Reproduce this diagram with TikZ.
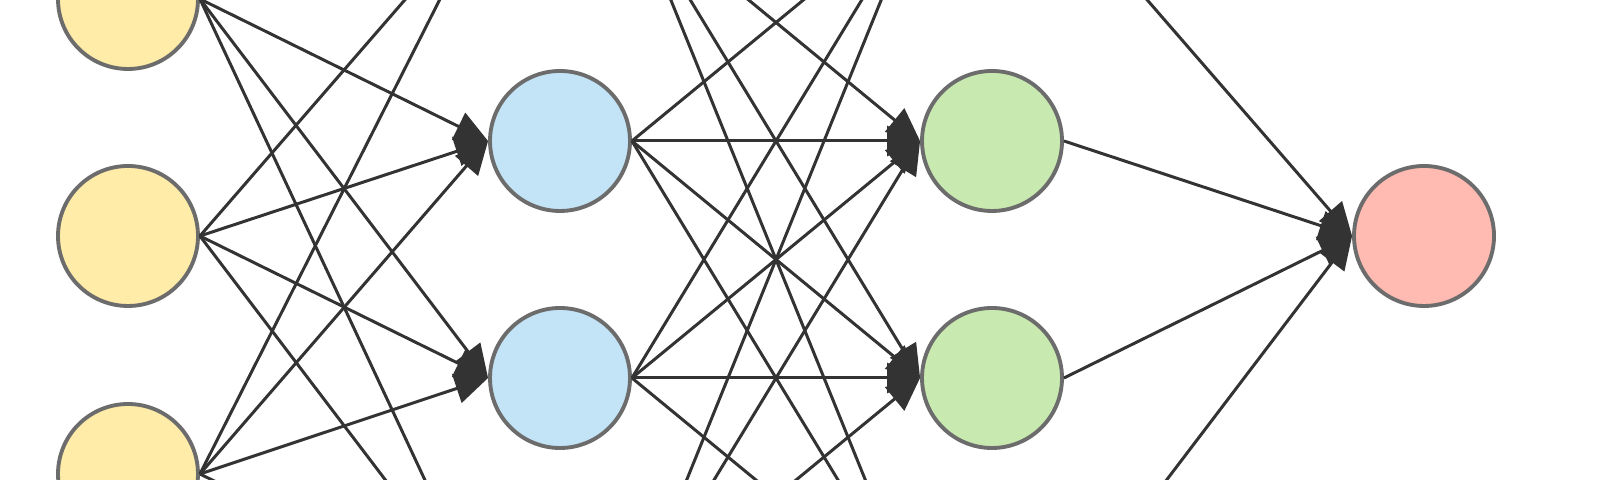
\documentclass[tikz,border=0pt]{standalone}
\usetikzlibrary{arrows.meta}
\definecolor{inyellow}{RGB}{255,236,168}
\definecolor{hidblue}{RGB}{194,228,246}
\definecolor{hidgreen}{RGB}{200,233,175}
\definecolor{outred}{RGB}{255,187,178}
\definecolor{rimgray}{RGB}{108,108,108}
\definecolor{linkgray}{RGB}{51,51,51}
\begin{document}
\begin{tikzpicture}[
		neuron/.style={circle,draw=rimgray,line width=1.1pt,minimum size=1.4cm,inner sep=0pt},
		link/.style={draw=linkgray,line width=0.85pt,-{Triangle[length=3.3mm,width=3mm]}}
	]
			\useasboundingbox (0,0) rectangle (16,4.8);
			\clip (0,0) rectangle (16,4.8);
			\fill[white] (0,0) rectangle (16,4.8);

			\node[neuron,fill=inyellow] (i1) at (1.28,4.81) {};
			\node[neuron,fill=inyellow] (i2) at (1.28,2.44) {};
			\node[neuron,fill=inyellow] (i3) at (1.28,0.06) {};

			% a0, a3, b0, b3 sit outside the frame
			\node[neuron,fill=hidblue] (a0) at (5.60,5.76) {};
			\node[neuron,fill=hidblue] (a1) at (5.60,3.39) {};
			\node[neuron,fill=hidblue] (a2) at (5.60,1.02) {};
			\node[neuron,fill=hidblue] (a3) at (5.60,-1.35) {};

			\node[neuron,fill=hidgreen] (b0) at (9.92,5.76) {};
			\node[neuron,fill=hidgreen] (b1) at (9.92,3.39) {};
			\node[neuron,fill=hidgreen] (b2) at (9.92,1.02) {};
			\node[neuron,fill=hidgreen] (b3) at (9.92,-1.35) {};

			\node[neuron,fill=outred] (o) at (14.24,2.44) {};

			\foreach \s in {i1,i2,i3}
				\foreach \t in {a0,a1,a2,a3}
					\draw[link] (\s.east) -- (\t.west);
			\foreach \s in {a0,a1,a2,a3}
				\foreach \t in {b0,b1,b2,b3}
					\draw[link] (\s.east) -- (\t.west);
			\foreach \s in {b0,b1,b2,b3}
				\draw[link] (\s.east) -- (o.west);
		\end{tikzpicture}
\end{document}
